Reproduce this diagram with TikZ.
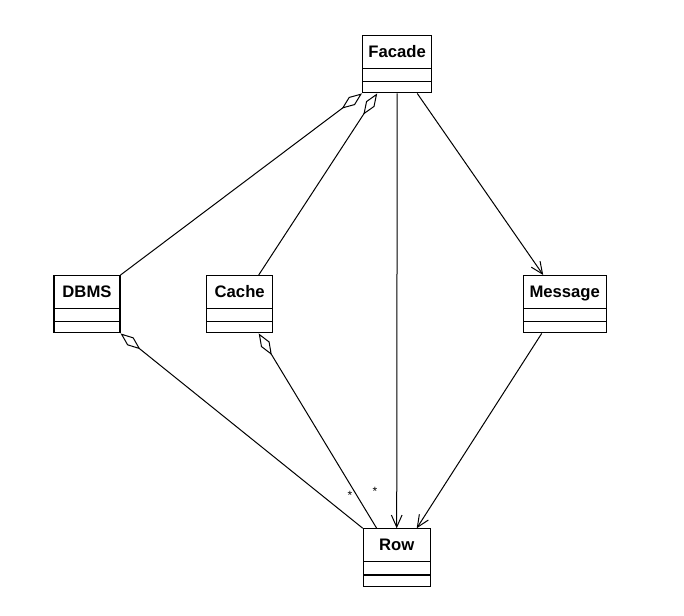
\documentclass[tikz,border=0pt]{standalone}
\usepackage{fontspec}
\setmainfont{Liberation Sans}
\usetikzlibrary{shapes.multipart,arrows.meta,calc}
\tikzset{
  umlclass/.style={draw, line width=0.8pt, rectangle split, rectangle split parts=3,
    inner ysep=0pt, inner xsep=2pt, anchor=north, font=\bfseries\fontsize{12.5}{14}\selectfont, fill=white},
  conn/.style={line width=0.75pt},
  agg/.style={conn, {Diamond[open,length=19pt,width=7.5pt,line width=0.75pt]}-},
  nav/.style={conn, -{Straight Barb[length=9pt,width=8pt,line width=0.75pt]}},
  mult/.style={font=\fontsize{9}{10}\selectfont, inner sep=0pt}
}
\newcommand{\partA}[1]{\rule[-8pt]{0pt}{24pt}#1\nodepart{two}\rule{0pt}{9pt}\nodepart{three}\rule{0pt}{7.6pt}}
\begin{document}
\begin{tikzpicture}[x=0.75pt,y=-0.75pt]
\useasboundingbox (0,0) rectangle (684,616);
\node[umlclass, minimum width=52pt] (facade) at (397.2,35) {\partA{Facade}};
\node[umlclass, minimum width=49.5pt] (dbms) at (87,275) {\partA{DBMS}};
\node[umlclass, minimum width=49.5pt] (cache) at (239.7,275) {\partA{Cache}};
\node[umlclass, minimum width=62pt] (message) at (564.7,275) {\partA{Message}};
\node[umlclass, minimum width=50pt] (row) at (396.7,528.3) {\partA{Row}};

\draw[agg] (facade.south west) -- (dbms.north east);
\draw[agg] ($(facade.south)+(-20,0)$) -- ($(cache.north)+(19,0)$);
\draw[nav] (facade.south) -- (row.north);
\draw[nav] ($(facade.south)+(20,0)$) -- ($(message.north)+(-21.5,0)$);
\draw[agg] (dbms.south east) -- (row.north west);
\draw[agg] ($(cache.south)+(19,0)$) -- ($(row.north)+(-20,0)$);
\draw[nav] ($(message.south)+(-23,0)$) -- ($(row.north)+(20,0)$);

\node[mult] (m1) at (350,495) {*};
\node[mult] (m2) at (375,491) {*};
\end{tikzpicture}
\end{document}
